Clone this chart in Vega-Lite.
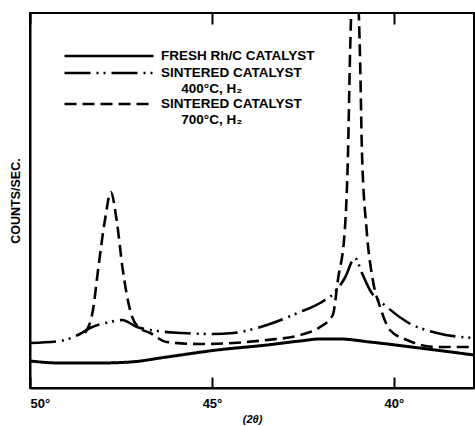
{
  "$schema": "https://vega.github.io/schema/vega-lite/v6.json",
  "width": 444,
  "height": 375,
  "autosize": {"type": "none"},
  "padding": {"left": 30, "top": 13, "right": 1, "bottom": 38},
  "background": "white",
  "config": {
    "font": "Liberation Sans",
    "view": {"stroke": "black", "strokeWidth": 2},
    "axis": {"domainColor": "black", "domainWidth": 2, "labelColor": "black", "titleColor": "black", "minExtent": 0}
  },
  "data": {
    "values": [
      {"series": "FRESH Rh/C CATALYST", "theta": 50.00, "counts": 27},
      {"series": "FRESH Rh/C CATALYST", "theta": 49.18, "counts": 25},
      {"series": "FRESH Rh/C CATALYST", "theta": 48.08, "counts": 25},
      {"series": "FRESH Rh/C CATALYST", "theta": 47.25, "counts": 26},
      {"series": "FRESH Rh/C CATALYST", "theta": 46.24, "counts": 31},
      {"series": "FRESH Rh/C CATALYST", "theta": 44.86, "counts": 38},
      {"series": "FRESH Rh/C CATALYST", "theta": 43.49, "counts": 43},
      {"series": "FRESH Rh/C CATALYST", "theta": 42.58, "counts": 47},
      {"series": "FRESH Rh/C CATALYST", "theta": 42.03, "counts": 49},
      {"series": "FRESH Rh/C CATALYST", "theta": 41.48, "counts": 49},
      {"series": "FRESH Rh/C CATALYST", "theta": 40.66, "counts": 46},
      {"series": "FRESH Rh/C CATALYST", "theta": 39.29, "counts": 40},
      {"series": "FRESH Rh/C CATALYST", "theta": 37.80, "counts": 33},

      {"series": "SINTERED CATALYST|\u200b\u2003\u2002400°C, H₂", "theta": 50.00, "counts": 45},
      {"series": "SINTERED CATALYST|\u200b\u2003\u2002400°C, H₂", "theta": 49.18, "counts": 47},
      {"series": "SINTERED CATALYST|\u200b\u2003\u2002400°C, H₂", "theta": 48.63, "counts": 54},
      {"series": "SINTERED CATALYST|\u200b\u2003\u2002400°C, H₂", "theta": 48.35, "counts": 60},
      {"series": "SINTERED CATALYST|\u200b\u2003\u2002400°C, H₂", "theta": 47.80, "counts": 66},
      {"series": "SINTERED CATALYST|\u200b\u2003\u2002400°C, H₂", "theta": 47.47, "counts": 68},
      {"series": "SINTERED CATALYST|\u200b\u2003\u2002400°C, H₂", "theta": 47.06, "counts": 61},
      {"series": "SINTERED CATALYST|\u200b\u2003\u2002400°C, H₂", "theta": 46.70, "counts": 58},
      {"series": "SINTERED CATALYST|\u200b\u2003\u2002400°C, H₂", "theta": 45.80, "counts": 55},
      {"series": "SINTERED CATALYST|\u200b\u2003\u2002400°C, H₂", "theta": 44.97, "counts": 54},
      {"series": "SINTERED CATALYST|\u200b\u2003\u2002400°C, H₂", "theta": 44.42, "counts": 55},
      {"series": "SINTERED CATALYST|\u200b\u2003\u2002400°C, H₂", "theta": 43.49, "counts": 63},
      {"series": "SINTERED CATALYST|\u200b\u2003\u2002400°C, H₂", "theta": 42.58, "counts": 76},
      {"series": "SINTERED CATALYST|\u200b\u2003\u2002400°C, H₂", "theta": 42.03, "counts": 85},
      {"series": "SINTERED CATALYST|\u200b\u2003\u2002400°C, H₂", "theta": 41.62, "counts": 96},
      {"series": "SINTERED CATALYST|\u200b\u2003\u2002400°C, H₂", "theta": 41.35, "counts": 110},
      {"series": "SINTERED CATALYST|\u200b\u2003\u2002400°C, H₂", "theta": 41.07, "counts": 130},
      {"series": "SINTERED CATALYST|\u200b\u2003\u2002400°C, H₂", "theta": 40.88, "counts": 115},
      {"series": "SINTERED CATALYST|\u200b\u2003\u2002400°C, H₂", "theta": 40.66, "counts": 98},
      {"series": "SINTERED CATALYST|\u200b\u2003\u2002400°C, H₂", "theta": 40.19, "counts": 81},
      {"series": "SINTERED CATALYST|\u200b\u2003\u2002400°C, H₂", "theta": 39.64, "counts": 66},
      {"series": "SINTERED CATALYST|\u200b\u2003\u2002400°C, H₂", "theta": 38.82, "counts": 55},
      {"series": "SINTERED CATALYST|\u200b\u2003\u2002400°C, H₂", "theta": 37.80, "counts": 50},

      {"series": "SINTERED CATALYST|\u200b\u2003\u2002700°C, H₂", "theta": 48.49, "counts": 55},
      {"series": "SINTERED CATALYST|\u200b\u2003\u2002700°C, H₂", "theta": 48.27, "counts": 78},
      {"series": "SINTERED CATALYST|\u200b\u2003\u2002700°C, H₂", "theta": 48.13, "counts": 118},
      {"series": "SINTERED CATALYST|\u200b\u2003\u2002700°C, H₂", "theta": 47.94, "counts": 168},
      {"series": "SINTERED CATALYST|\u200b\u2003\u2002700°C, H₂", "theta": 47.78, "counts": 196},
      {"series": "SINTERED CATALYST|\u200b\u2003\u2002700°C, H₂", "theta": 47.62, "counts": 168},
      {"series": "SINTERED CATALYST|\u200b\u2003\u2002700°C, H₂", "theta": 47.45, "counts": 118},
      {"series": "SINTERED CATALYST|\u200b\u2003\u2002700°C, H₂", "theta": 47.25, "counts": 78},
      {"series": "SINTERED CATALYST|\u200b\u2003\u2002700°C, H₂", "theta": 47.03, "counts": 61},
      {"series": "SINTERED CATALYST|\u200b\u2003\u2002700°C, H₂", "theta": 46.70, "counts": 55},
      {"series": "SINTERED CATALYST|\u200b\u2003\u2002700°C, H₂", "theta": 46.24, "counts": 46},
      {"series": "SINTERED CATALYST|\u200b\u2003\u2002700°C, H₂", "theta": 45.33, "counts": 44},
      {"series": "SINTERED CATALYST|\u200b\u2003\u2002700°C, H₂", "theta": 44.42, "counts": 45},
      {"series": "SINTERED CATALYST|\u200b\u2003\u2002700°C, H₂", "theta": 43.49, "counts": 48},
      {"series": "SINTERED CATALYST|\u200b\u2003\u2002700°C, H₂", "theta": 42.58, "counts": 53},
      {"series": "SINTERED CATALYST|\u200b\u2003\u2002700°C, H₂", "theta": 42.03, "counts": 61},
      {"series": "SINTERED CATALYST|\u200b\u2003\u2002700°C, H₂", "theta": 41.68, "counts": 73},
      {"series": "SINTERED CATALYST|\u200b\u2003\u2002700°C, H₂", "theta": 41.54, "counts": 108},
      {"series": "SINTERED CATALYST|\u200b\u2003\u2002700°C, H₂", "theta": 41.35, "counts": 158},
      {"series": "SINTERED CATALYST|\u200b\u2003\u2002700°C, H₂", "theta": 41.26, "counts": 238},
      {"series": "SINTERED CATALYST|\u200b\u2003\u2002700°C, H₂", "theta": 41.21, "counts": 328},
      {"series": "SINTERED CATALYST|\u200b\u2003\u2002700°C, H₂", "theta": 41.15, "counts": 400},
      {"series": "SINTERED CATALYST|\u200b\u2003\u2002700°C, H₂", "theta": 41.07, "counts": 440},
      {"series": "SINTERED CATALYST|\u200b\u2003\u2002700°C, H₂", "theta": 40.99, "counts": 400},
      {"series": "SINTERED CATALYST|\u200b\u2003\u2002700°C, H₂", "theta": 40.93, "counts": 328},
      {"series": "SINTERED CATALYST|\u200b\u2003\u2002700°C, H₂", "theta": 40.88, "counts": 238},
      {"series": "SINTERED CATALYST|\u200b\u2003\u2002700°C, H₂", "theta": 40.75, "counts": 158},
      {"series": "SINTERED CATALYST|\u200b\u2003\u2002700°C, H₂", "theta": 40.58, "counts": 108},
      {"series": "SINTERED CATALYST|\u200b\u2003\u2002700°C, H₂", "theta": 40.38, "counts": 81},
      {"series": "SINTERED CATALYST|\u200b\u2003\u2002700°C, H₂", "theta": 40.11, "counts": 58},
      {"series": "SINTERED CATALYST|\u200b\u2003\u2002700°C, H₂", "theta": 39.64, "counts": 48},
      {"series": "SINTERED CATALYST|\u200b\u2003\u2002700°C, H₂", "theta": 38.82, "counts": 41},
      {"series": "SINTERED CATALYST|\u200b\u2003\u2002700°C, H₂", "theta": 37.80, "counts": 41}
    ]
  },
  "encoding": {
    "x": {
      "field": "theta", "type": "quantitative",
      "scale": {"domain": [37.8, 50], "reverse": true, "nice": false, "zero": false},
      "axis": {"orient": "bottom", "title": "(2θ)", "values": [50, 45, 40], "labelExpr": "datum.value + '°'", "ticks": false, "grid": true, "gridColor": "black", "gridWidth": 2, "gridOpacity": 1, "gridDash": [11, 353], "labelPadding": 9, "labelFontSize": 13, "labelFontWeight": "bold", "titleFontSize": 11, "titleFontWeight": "bold", "titleFontStyle": "italic", "titlePadding": 3}
    },
    "y": {
      "field": "counts", "type": "quantitative",
      "scale": {"domain": [0, 375], "nice": false},
      "axis": {"title": "COUNTS/SEC.", "ticks": false, "labels": false, "grid": false, "titleFontSize": 12.5, "titleFontWeight": "bold", "titlePadding": 8}
    },
    "strokeDash": {
      "field": "series", "type": "nominal",
      "scale": {
        "domain": ["FRESH Rh/C CATALYST", "SINTERED CATALYST|\u200b\u2003\u2002400°C, H₂", "SINTERED CATALYST|\u200b\u2003\u2002700°C, H₂"],
        "range": [[1, 0], [26, 6, 2, 5, 2, 6], [12, 6]]
      },
      "legend": {
        "title": null,
        "orient": "none",
        "legendX": 33,
        "legendY": 35,
        "padding": 0,
        "symbolType": "stroke",
        "symbolSize": 7921,
        "symbolStrokeWidth": 2.6,
        "symbolStrokeColor": "black",
        "clipHeight": 16,
        "labelFont": "Liberation Sans",
        "labelFontWeight": "bold",
        "labelFontSize": 13.5,
        "labelLineHeight": 16,
        "labelColor": "black",
        "labelLimit": 0,
        "labelOffset": 6,
        "rowPadding": 1,
        "labelExpr": "split(datum.label, '|')"
      }
    }
  },
  "layer": [
    {
      "transform": [{"filter": "datum.series == 'FRESH Rh/C CATALYST'"}],
      "mark": {"type": "line", "color": "black", "strokeWidth": 3, "interpolate": "monotone", "clip": true}
    },
    {
      "transform": [{"filter": "datum.series != 'FRESH Rh/C CATALYST'"}],
      "mark": {"type": "line", "color": "black", "strokeWidth": 2.6, "interpolate": "monotone", "clip": true}
    }
  ]
}
